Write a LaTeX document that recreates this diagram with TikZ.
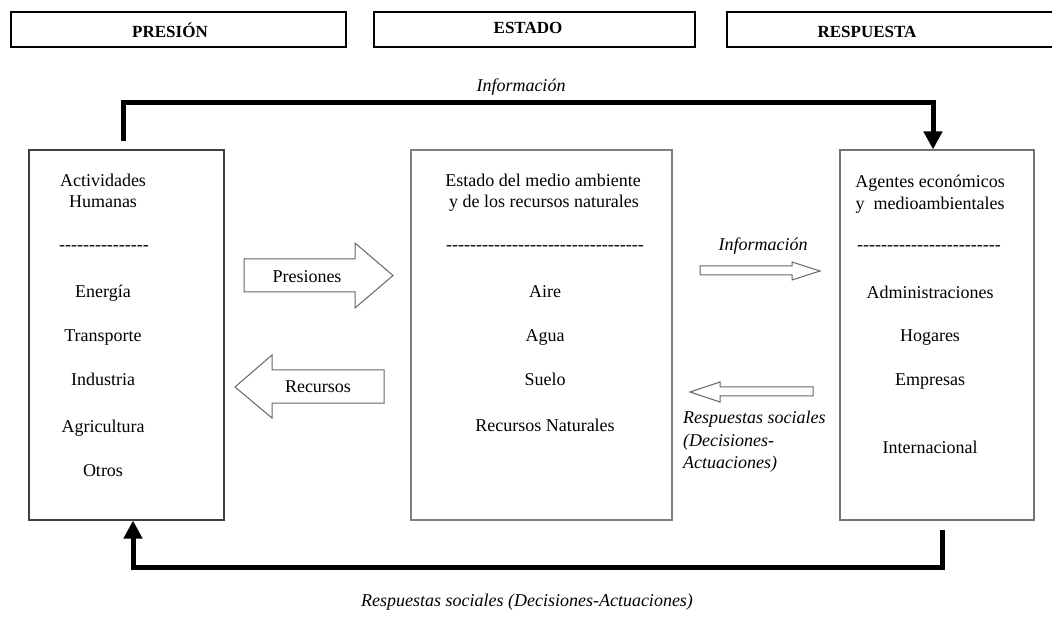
\documentclass[tikz,border=0pt]{standalone}
\usepackage{fontspec}
\setmainfont{Liberation Serif}
\usetikzlibrary{arrows.meta}
\newcommand\hyphens[1]{\foreach\k in {1,...,#1}{-}}
\begin{document}
\begin{tikzpicture}[x=1pt,y=-1pt,
  hdr/.style={draw=black, line width=1.2pt, minimum height=35pt, inner sep=0pt},
  hdrtxt/.style={font=\fontsize{17}{20}\selectfont\bfseries, inner sep=0pt, anchor=base},
  bigbox/.style={line width=1.1pt, inner sep=0pt, minimum height=370pt},
  txt/.style={font=\fontsize{18}{21}\selectfont, inner sep=0pt, anchor=base},
  itxt/.style={font=\fontsize{18}{21}\selectfont\itshape, inner sep=0pt, anchor=base},
  blk/.style={draw=black!60, line width=1pt, fill=white, line join=miter},
  conn/.style={line width=5pt, line join=miter},
  tipa/.style={-{Triangle[width=18pt,length=18pt]}}
]
\useasboundingbox (0,0) rectangle (1052,617);

% header boxes
\node[hdr, minimum width=335pt] (hp) at (178.5,29.5) {};
\node[hdr, minimum width=321pt] (he) at (534.5,29.5) {};
\node[hdr, minimum width=335pt] (hr) at (894.5,29.5) {};
\node[hdrtxt] (tp) at (170,37.5) {PRESIÓN};
\node[hdrtxt] (te) at (528,33.5) {ESTADO};
\node[hdrtxt] (tr) at (867,38) {RESPUESTA};

% main boxes
\node[bigbox, draw=black!75, minimum width=195pt] (lbox) at (126.5,335) {};
\node[bigbox, draw=black!50, minimum width=261pt] (mbox) at (541.5,335) {};
\node[bigbox, draw=black!55, minimum width=194pt] (rbox) at (937,335) {};

% left box text
\node[txt] (l1) at (103,187) {Actividades};
\node[txt] (l2) at (103,208) {Humanas};
\node[txt] (l3) at (104,251) {\hyphens{15}};
\node[txt] (l4) at (103,298) {Energía};
\node[txt] (l5) at (103,342) {Transporte};
\node[txt] (l6) at (103,386) {Industria};
\node[txt] (l7) at (103,432) {Agricultura};
\node[txt] (l8) at (103,476) {Otros};

% middle box text
\node[txt] (m1) at (543,187) {Estado del medio ambiente};
\node[txt] (m2) at (544,208) {y de los recursos naturales};
\node[txt] (m3) at (545,251) {\hyphens{33}};
\node[txt] (m4) at (545,298) {Aire};
\node[txt] (m5) at (545,342) {Agua};
\node[txt] (m6) at (545,386) {Suelo};
\node[txt] (m7) at (545,431) {Recursos Naturales};

% right box text
\node[txt] (r1) at (930,188) {Agentes económicos};
\node[txt] (r2) at (930,210) {y\ \ medioambientales};
\node[txt] (r3) at (929,251) {\hyphens{24}};
\node[txt] (r4) at (930,299) {Administraciones};
\node[txt] (r5) at (930,342) {Hogares};
\node[txt] (r6) at (930,386) {Empresas};
\node[txt] (r7) at (930,453) {Internacional};

% block arrows
\draw[blk] (244,259) -- (355,259) -- (355,243) -- (393,275.5) -- (355,308) -- (355,292) -- (244,292) -- cycle;
\node[txt] (pres) at (307,283) {Presiones};
\draw[blk] (235,387) -- (272,355) -- (272,370) -- (384,370) -- (384,403) -- (272,403) -- (272,418) -- cycle;
\node[txt] (recu) at (318,392) {Recursos};
\draw[blk] (700,266) -- (792,266) -- (792,262) -- (820,271) -- (792,280) -- (792,275) -- (700,275) -- cycle;
\node[itxt] (info2) at (763,251) {Información};
\draw[blk] (690,392) -- (720,382) -- (720,387) -- (813,387) -- (813,396) -- (720,396) -- (720,402) -- cycle;
\node[itxt, anchor=base west] (rs1) at (683,424) {Respuestas sociales};
\node[itxt, anchor=base west] (rs2) at (683,446) {(Decisiones-};
\node[itxt, anchor=base west] (rs3) at (683,468) {Actuaciones)};

% connectors
\coordinate (tstart) at (123,141);
\coordinate (tx) at (933,0);
\draw[conn, tipa] (tstart) -- (123,103) -- (933,103) -- (rbox.north -| tx);
\node[itxt] (info1) at (521,92) {Información};

\coordinate (bstart) at (942,530);
\coordinate (bx) at (133,0);
\draw[conn, tipa] (bstart) -- (942,567) -- (133,567) -- (lbox.south -| bx);
\node[itxt] (rsb) at (527,606) {Respuestas sociales (Decisiones-Actuaciones)};
\end{tikzpicture}
\end{document}
